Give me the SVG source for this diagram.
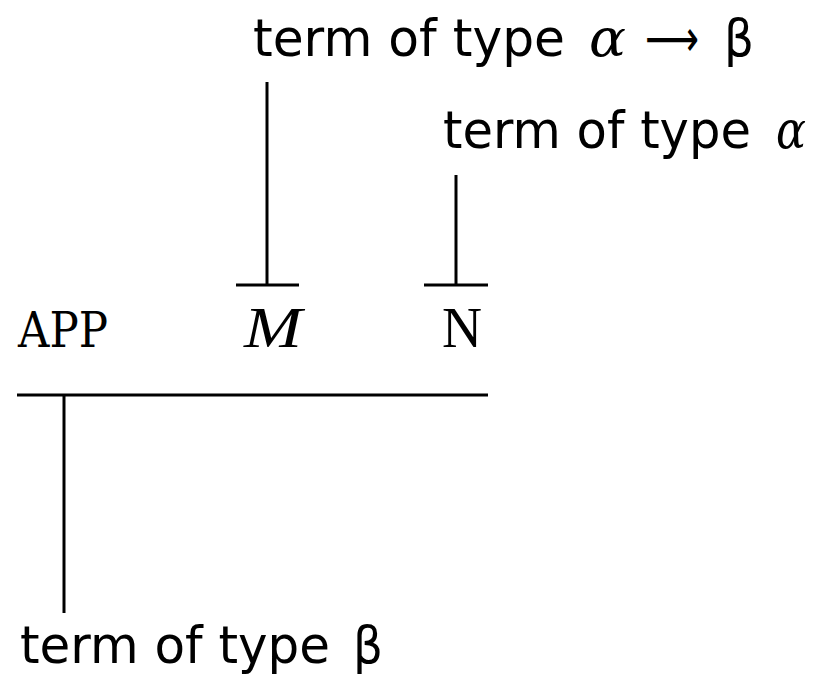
<svg xmlns="http://www.w3.org/2000/svg" width="825" height="683" viewBox="0 0 825 683">
<style>
.lbl{font-family:"DejaVu Sans","Liberation Sans",sans-serif;font-size:51px;fill:#000}
.sym{font-family:"DejaVu Serif","Liberation Serif",serif;font-style:italic;font-size:52px}
.ln{stroke:#000;stroke-width:3;fill:none}
</style>
<rect width="825" height="683" fill="#fff"/>
<g id="connectors">
<line class="ln" x1="267" y1="82" x2="267" y2="285"/>
<line class="ln" x1="236" y1="285" x2="299" y2="285"/>
<line class="ln" x1="456" y1="175" x2="456" y2="285"/>
<line class="ln" x1="424" y1="285" x2="488" y2="285"/>
<line class="ln" x1="17" y1="395" x2="488" y2="395"/>
<line class="ln" x1="64" y1="395" x2="64" y2="613"/>
</g>
<g id="label-top">
<text class="lbl" x="253" y="56" textLength="312" lengthAdjust="spacingAndGlyphs">term of type</text>
<text class="lbl sym" x="589" y="56" textLength="37" lengthAdjust="spacingAndGlyphs">α</text>
<text class="lbl" x="645" y="56" textLength="54" lengthAdjust="spacingAndGlyphs">⟶</text>
<text class="lbl" x="724" y="56" textLength="30" lengthAdjust="spacingAndGlyphs">β</text>
</g>
<g id="label-alpha">
<text class="lbl" x="443" y="148" textLength="308" lengthAdjust="spacingAndGlyphs">term of type</text>
<text class="lbl sym" x="776" y="148" textLength="30" lengthAdjust="spacingAndGlyphs">α</text>
</g>
<g id="node-app">
<text x="18" y="347" font-family="'DejaVu Serif',serif" font-size="48" textLength="90" lengthAdjust="spacingAndGlyphs">APP</text>
</g>
<g id="node-m">
<text x="244" y="347" font-family="'Liberation Serif',serif" font-style="italic" font-size="56" textLength="58" lengthAdjust="spacingAndGlyphs">M</text>
</g>
<g id="node-n">
<text x="442" y="347" font-family="'Liberation Serif',serif" font-size="56" textLength="40" lengthAdjust="spacingAndGlyphs">N</text>
</g>
<g id="label-bottom">
<text class="lbl" x="20" y="663" textLength="310" lengthAdjust="spacingAndGlyphs">term of type</text>
<text class="lbl" x="353" y="663" textLength="30" lengthAdjust="spacingAndGlyphs">β</text>
</g>
</svg>
